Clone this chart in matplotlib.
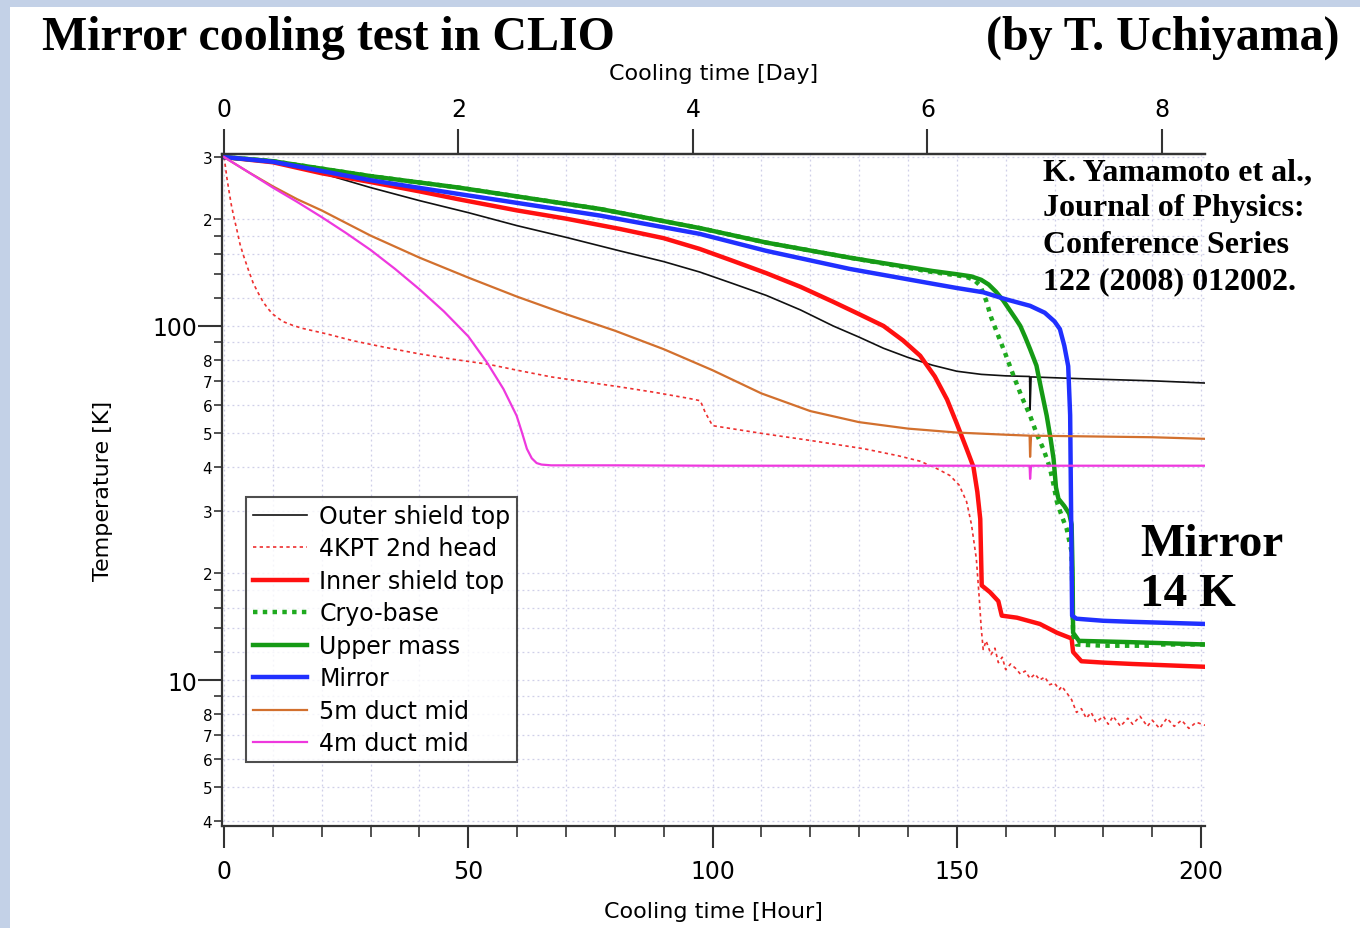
import numpy as np
import matplotlib
matplotlib.use("Agg")
import matplotlib.pyplot as plt
from matplotlib.patches import Rectangle
from matplotlib.ticker import FixedLocator, FuncFormatter, MultipleLocator, NullFormatter

plt.rcParams.update({"font.family": "DejaVu Sans"})
SERIF = "Liberation Serif"

# ── data (hours, kelvin) ────────────────────────────────────────────────────
outer_h = [0, 5, 10, 20, 30, 40, 50, 60, 70, 81, 90, 97.4, 104, 111, 118, 124.7, 130,
           135, 140, 145, 150, 155, 160, 164.9, 165, 165.2, 175, 190, 200.8]
outer_T = [300, 297, 290, 270, 246, 226, 209, 192, 178, 163, 152, 142, 132, 122, 111,
           100, 93, 86.5, 81.5, 77.5, 74.5, 73, 72.3, 72, 58, 71.8, 71, 70, 69]

kpt_h = [0, 0.3, 0.6, 1, 1.5, 2, 2.6, 3.3, 4, 5, 6, 7, 8, 9, 10, 12, 14, 16, 21, 26.5,
         33, 40, 47, 54, 60, 67, 74, 81, 88, 95, 97.5, 98.5, 100, 105, 111, 120, 131,
         138, 142.5, 146, 148.6, 150.5, 152, 153, 154, 154.6, 155, 155.4, 156, 157,
         157.8, 158.5, 159.3, 160, 161, 162, 163, 164, 165, 166, 167, 168, 169, 170, 171,
         171.5, 172.5, 173.5, 174.5, 175.5, 176.5, 177.5, 178.5, 180, 181, 182, 183.5,
         185, 186, 187.5, 189, 190, 191.5, 193, 194.5, 196, 197.5, 199, 200.8]
kpt_T = [300, 282, 262, 242, 220, 204, 188, 170, 158, 144, 132, 124, 117, 112, 108,
         103, 100.5, 98.5, 95, 90.8, 87, 83.4, 80.5, 78, 75, 71.8, 69.5, 67.3, 65, 62.5,
         61.5, 57, 52.3, 51, 49.5, 47.5, 45, 43, 41.5, 39.5, 37.8, 35.5, 31.9, 27.5, 22,
         17, 14, 12.2, 12.9, 11.8, 12.3, 11.2, 11.6, 10.7, 11.1, 10.8, 10.4, 10.6, 10.1,
         10.4, 10.0, 10.2, 9.7, 9.8, 9.4, 9.6, 9.2, 8.8, 8.1, 8.3, 7.8, 8.1, 7.6, 7.9,
         7.5, 7.9, 7.4, 7.8, 7.5, 7.9, 7.4, 7.7, 7.3, 7.8, 7.4, 7.7, 7.3, 7.6, 7.45]

inner_h = [0, 10, 20, 30, 40, 48, 60, 70, 81, 90, 97.4, 104, 111, 118, 124.7, 130, 135,
           139, 142.5, 145.5, 148, 150, 152, 153.4, 154.2, 154.8, 155.1, 156.8, 158.5,
           159.2, 162.3, 167, 170.5, 173.5, 173.8, 175.5, 180, 186, 200.8]
inner_T = [300, 290, 270, 255, 240, 228, 212, 201, 188, 177, 165, 153, 141, 129, 117,
           108, 100, 91, 82.4, 72, 62, 53, 45, 40, 34, 28.5, 18.5, 17.7, 16.7, 15.2,
           15.0, 14.4, 13.6, 13.1, 12.0, 11.3, 11.2, 11.1, 10.9]

cryo_h = [0, 10, 30, 48, 77, 97.4, 111, 128, 145, 150, 152, 153.5, 154.8, 156, 157,
          158.2, 160, 161.6, 163.3, 165, 166.5, 167.7, 169, 169.7, 170.5, 171.5, 172.5,
          173.5, 173.8, 174.5, 180, 190, np.nan, 191.8, 200.8]
cryo_T = [300, 292, 265, 246, 214, 189, 172, 156, 142, 139, 137.5, 135, 130, 118, 106,
          96, 83, 72.4, 63, 55.8, 49, 45, 40, 36.2, 31.8, 29, 26.7, 23, 13.4, 12.6, 12.5,
          12.5, np.nan, 12.6, 12.6]

upper_h = [0, 10, 30, 48, 77, 97.4, 111, 128, 134.3, 145, 150, 153, 155, 156.5, 158,
           159.5, 161, 162, 163, 164, 165, 166.3, 167.3, 168.4, 169.2, 169.8, 170.3,
           170.8, 172, 173, 173.5, 173.7, 173.8, 175, 185, 200.8]
upper_T = [300, 292, 265, 246, 214, 189, 172, 156, 151, 143, 140, 138, 135, 131, 125,
           118, 110, 105, 100, 93, 86, 77.3, 66, 55.8, 48, 42.2, 35, 32.5, 31, 29.5, 27.5,
           20, 13.6, 12.9, 12.8, 12.6]

mirror_h = [0, 10, 30, 48, 77, 97.4, 111, 128, 145.2, 150, 155.4, 160, 165, 168,
            170, 171.1, 172, 172.8, 173.2, 173.6, 174.5, 180, 186, 200.8]
mirror_T = [300, 291, 258, 236, 205, 182, 163, 145, 131.5, 128, 124.5, 119, 114, 109,
            103, 98, 88, 77, 56, 15.2, 14.9, 14.7, 14.6, 14.4]

duct5_h = [0, 5, 10, 15, 20, 30, 40, 50, 60, 70, 80, 90, 100, 110, 120, 130, 140, 150,
           160, 164.9, 165, 165.2, 175, 190, 200.8]
duct5_T = [300, 272, 248, 228, 212, 180, 156, 137, 121, 108, 97, 86, 75, 64.5, 57.5,
           53.5, 51.3, 50, 49.3, 49, 42.7, 49, 48.8, 48.5, 48]

duct4_h = [0, 5, 10, 15, 20, 25, 30, 35, 40, 45, 50, 53.8, 57.2, 59.9, 61, 62, 63, 64,
           65, 67, 80, 100, 120, 140, 164.9, 165, 165.2, 180, 200.8]
duct4_T = [300, 272, 246, 224, 203, 183, 164, 145, 127, 110, 93.5, 79, 66.4, 55.8, 50,
           45, 42.3, 41, 40.6, 40.4, 40.4, 40.3, 40.3, 40.3, 40.3, 37, 40.3, 40.3, 40.3]

day_ticks = [0, 2, 4, 6, 8]
hour_ticks = [0, 50, 100, 150, 200]

# ── figure ──────────────────────────────────────────────────────────────────
W, H = 1360, 929
fig = plt.figure(figsize=(W / 100, H / 100), dpi=100)
fig.patch.set_facecolor("#c3d1e7")
fig.add_artist(Rectangle((10 / W, 0), 1, 1 - 8 / H, transform=fig.transFigure,
                         facecolor="white", edgecolor="none", zorder=-10))

ax = fig.add_axes([222 / W, 1 - 827 / H, (1205 - 222) / W, (827 - 155) / H])
ax.set_yscale("log")
ax.set_xlim(-0.4, 200.8)
ax.set_ylim(3.87, 306)

ax.plot(outer_h, outer_T, color="#111111", lw=1.2, label="Outer shield top")
ax.plot(kpt_h, kpt_T, color="#ee3030", lw=1.2, ls=(0, (2, 2)), label="4KPT 2nd head")
ax.plot(inner_h, inner_T, color="#ff1010", lw=3.2, label="Inner shield top")
ax.plot(cryo_h, cryo_T, color="#1faa1f", lw=3.2, ls=(0, (1, 1.2)), label="Cryo-base")
ax.plot(upper_h, upper_T, color="#159a15", lw=3.2, label="Upper mass")
ax.plot(mirror_h, mirror_T, color="#2030ff", lw=3.2, label="Mirror")
ax.plot(duct5_h, duct5_T, color="#d2702e", lw=1.6, label="5m duct mid")
ax.plot(duct4_h, duct4_T, color="#ee38de", lw=1.6, label="4m duct mid")

# y axis: labelled majors at 10 / 100, minor digits 2..8
ax.yaxis.set_major_locator(FixedLocator([10, 100]))
ax.yaxis.set_major_formatter(FuncFormatter(lambda v, p: f"{int(round(v))}"))
minor_vals = []
for dec in (1, 10, 100):
    for m in (1.2, 1.4, 1.6, 1.8, 2, 3, 4, 5, 6, 7, 8, 9):
        v = m * dec
        if 3.9 <= v <= 305:
            minor_vals.append(v)
ax.yaxis.set_minor_locator(FixedLocator(minor_vals))


def lead_digit(v):
    return round(v / 10 ** np.floor(np.log10(v) + 1e-9), 1)


def minor_fmt(v, p):
    d = lead_digit(v)
    return f"{int(d)}" if d in (2, 3, 4, 5, 6, 7, 8) else ""


ax.yaxis.set_minor_formatter(FuncFormatter(minor_fmt))
ax.tick_params(axis="y", which="major", direction="out", length=17, width=1.5,
               labelsize=17, pad=1, color="#333")
ax.tick_params(axis="y", which="minor", direction="out", length=6, width=1.2,
               labelsize=11, pad=1, color="#333")
for t in ax.yaxis.get_minor_ticks():
    if lead_digit(t.get_loc()) in (2, 3, 4, 5, 6, 7, 8):
        t.tick1line.set_markersize(9)

# x axis (hours)
ax.xaxis.set_major_locator(FixedLocator(hour_ticks))
ax.xaxis.set_minor_locator(MultipleLocator(10))
ax.xaxis.set_minor_formatter(NullFormatter())
ax.tick_params(axis="x", which="major", direction="out", length=16, width=1.5,
               labelsize=17, pad=8, color="#333")
ax.tick_params(axis="x", which="minor", direction="out", length=8, width=1.2, color="#333")

ax.grid(True, which="both", color="#cfcfe8", lw=0.9, ls=(0, (1.5, 2.5)))
ax.set_axisbelow(True)

for s in ("left", "bottom", "top"):
    ax.spines[s].set_linewidth(1.6)
    ax.spines[s].set_color("#333")
ax.spines["right"].set_visible(False)

# top axis (days)
secax = ax.secondary_xaxis("top", functions=(lambda h: h / 24.0, lambda d: d * 24.0))
secax.set_xticks(day_ticks)
secax.xaxis.set_minor_locator(FixedLocator([]))
secax.tick_params(axis="x", direction="out", length=18, width=1.5, labelsize=17,
                  pad=6, color="#333")
secax.spines["top"].set_linewidth(1.6)
secax.spines["top"].set_color("#333")
secax.set_xlabel("Cooling time [Day]", fontsize=16, labelpad=13)

ax.set_xlabel("Cooling time [Hour]", fontsize=16, labelpad=13)
ax.set_ylabel("Temperature [K]", fontsize=16, labelpad=28)

leg = ax.legend(loc="upper left", bbox_to_anchor=(0.0244, 0.49), borderaxespad=0,
                fontsize=17, frameon=True, fancybox=False, handlelength=2.3,
                handletextpad=0.5, labelspacing=0.36, borderpad=0.3)
leg.get_frame().set_edgecolor("#222")
leg.get_frame().set_linewidth(1.5)

# annotations
fig.text(42 / W, 1 - 38 / H, "Mirror cooling test in CLIO", family=SERIF,
         weight="bold", fontsize=34.5, ha="left", va="center")
fig.text(1340 / W, 1 - 38 / H, "(by T. Uchiyama)", family=SERIF,
         weight="bold", fontsize=34.5, ha="right", va="center")
fig.text(1043 / W, 1 - 158 / H,
         "K. Yamamoto et al.,\nJournal of Physics:\nConference Series\n122 (2008) 012002.",
         family=SERIF, weight="bold", fontsize=23, ha="left", va="top", linespacing=1.33)
fig.text(1140 / W, 1 - 570 / H, "Mirror\n14 K", family=SERIF, weight="bold",
         fontsize=34, ha="left", va="center", linespacing=1.27)

fig.savefig("out.png", dpi=100, facecolor=fig.get_facecolor())
